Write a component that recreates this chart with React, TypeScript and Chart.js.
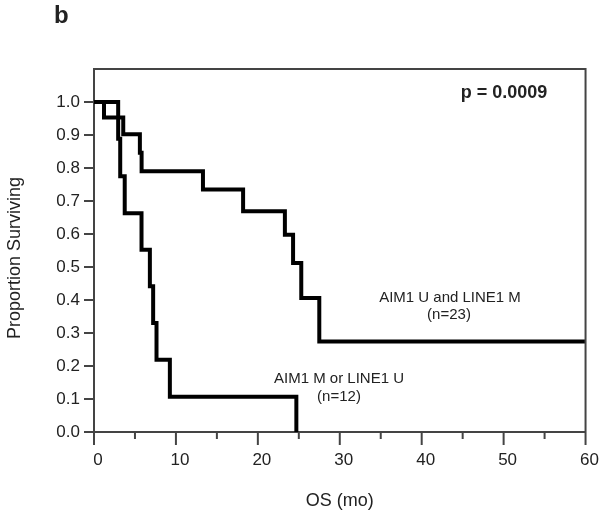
import React, { useEffect, useRef } from "react";
import { Chart, registerables } from "chart.js";

Chart.register(...registerables);

// Kaplan–Meier step data (time in months, proportion surviving after the step)
const groupATimes = [0, 1.22, 3.57, 5.6, 5.81, 13.3, 18.2, 23.3, 24.3, 25.3, 27.5, 60];
const groupAValues = [1.0, 0.953, 0.902, 0.846, 0.79, 0.735, 0.669, 0.598, 0.512, 0.406, 0.274, 0.274];
const groupBTimes = [0, 2.95, 3.2, 3.75, 5.8, 6.82, 7.22, 7.63, 9.26, 24.7];
const groupBValues = [1.0, 0.889, 0.775, 0.663, 0.552, 0.442, 0.33, 0.219, 0.107, 0.0];

const yTickValues = [0, 0.1, 0.2, 0.3, 0.4, 0.5, 0.6, 0.7, 0.8, 0.9, 1.0];
const xTickValues = [0, 5, 10, 15, 20, 25, 30, 35, 40, 45, 50, 55, 60];
const xLabelValues = [0, 10, 20, 30, 40, 50, 60];

const panelLabel = "b";
const pValueText = "p = 0.0009";
const groupALabel = ["AIM1 U and LINE1 M", "(n=23)"];
const groupBLabel = ["AIM1 M or LINE1 U", "(n=12)"];
const xTitle = "OS (mo)";
const yTitle = "Proportion Surviving";

const FONT = "'Liberation Sans', Arial, sans-serif";
const AXIS = "#444";
const TEXT = "#222";

const toPoints = (t: number[], v: number[]) => t.map((x, i) => ({ x, y: v[i] }));

const decorPlugin = {
  id: "decor",
  afterDraw(chart: any) {
    const { ctx, chartArea, scales } = chart;
    const xs = scales.x;
    const ys = scales.y;
    ctx.save();
    // frame top & right
    ctx.strokeStyle = AXIS;
    ctx.lineWidth = 2;
    ctx.beginPath();
    ctx.moveTo(chartArea.left - 1, chartArea.top);
    ctx.lineTo(chartArea.right, chartArea.top);
    ctx.lineTo(chartArea.right, chartArea.bottom);
    ctx.stroke();
    // x tick marks
    xTickValues.forEach((v) => {
      const px = xs.getPixelForValue(v);
      const len = v % 10 === 0 ? 13 : 7;
      ctx.beginPath();
      ctx.moveTo(px, chartArea.bottom);
      ctx.lineTo(px, chartArea.bottom + len);
      ctx.stroke();
    });
    // y tick marks
    yTickValues.forEach((v) => {
      const py = ys.getPixelForValue(v);
      ctx.beginPath();
      ctx.moveTo(chartArea.left, py);
      ctx.lineTo(chartArea.left - 10, py);
      ctx.stroke();
    });

    ctx.fillStyle = TEXT;
    ctx.textAlign = "left";
    ctx.textBaseline = "alphabetic";
    ctx.font = `bold 24px ${FONT}`;
    ctx.fillText(panelLabel, 54, 23);

    ctx.textAlign = "center";
    ctx.textBaseline = "middle";
    ctx.font = `bold 18px ${FONT}`;
    ctx.fillText(pValueText, 504, 93);

    ctx.font = `15px ${FONT}`;
    ctx.fillText(groupALabel[0], 450, 298);
    ctx.fillText(groupALabel[1], 449, 315);
    ctx.fillText(groupBLabel[0], 339, 379);
    ctx.fillText(groupBLabel[1], 339, 397);

    ctx.font = `18px ${FONT}`;
    ctx.fillText(xTitle, (chartArea.left + chartArea.right) / 2, 501);

    ctx.translate(15, 258);
    ctx.rotate(-Math.PI / 2);
    ctx.fillText(yTitle, 0, 0);
    ctx.restore();
  },
};

export default function App() {
  const ref = useRef<HTMLCanvasElement>(null);
  useEffect(() => {
    if (!ref.current) return;
    const chart = new Chart(ref.current, {
      type: "line",
      data: {
        datasets: [
          {
            label: groupALabel[0],
            data: toPoints(groupATimes, groupAValues),
            borderColor: "#000",
            borderWidth: 4,
            pointRadius: 0,
            stepped: "before",
            fill: false,
            borderJoinStyle: "miter",
          },
          {
            label: groupBLabel[0],
            data: toPoints(groupBTimes, groupBValues),
            borderColor: "#000",
            borderWidth: 4,
            pointRadius: 0,
            stepped: "before",
            fill: false,
            borderJoinStyle: "miter",
          },
        ],
      },
      options: {
        responsive: false,
        animation: false,
        layout: { padding: { left: 0, right: 13, top: 69, bottom: 0 } },
        plugins: { legend: { display: false }, tooltip: { enabled: false } },
        scales: {
          x: {
            type: "linear",
            min: 0,
            max: 60,
            afterBuildTicks: (s: any) => {
              s.ticks = xLabelValues.map((v) => ({ value: v }));
            },
            afterFit: (s: any) => {
              s.height = 83;
            },
            ticks: {
              font: { family: FONT, size: 17 },
              color: TEXT,
              padding: 5,
              labelOffset: 4,
              maxRotation: 0,
              autoSkip: false,
            },
            grid: {
              display: true,
              drawOnChartArea: false,
              tickLength: 13,
              tickColor: "rgba(0,0,0,0)",
            },
            border: { display: true, color: AXIS, width: 2 },
          },
          y: {
            type: "linear",
            min: 0,
            max: 1.1,
            afterBuildTicks: (s: any) => {
              s.ticks = yTickValues.map((v) => ({ value: v }));
            },
            afterFit: (s: any) => {
              s.width = 94;
            },
            ticks: {
              font: { family: FONT, size: 17 },
              color: TEXT,
              padding: 4,
              callback: (v: any) => Number(v).toFixed(1),
            },
            grid: {
              display: true,
              drawOnChartArea: false,
              tickLength: 10,
              tickColor: "rgba(0,0,0,0)",
            },
            border: { display: true, color: AXIS, width: 2 },
          },
        },
      },
      plugins: [decorPlugin],
    } as any);
    return () => chart.destroy();
  }, []);
  return (
    <div style={{ position: "fixed", left: 0, top: 0, width: 600, height: 515, background: "#fff" }}>
      <canvas ref={ref} width={600} height={515} />
    </div>
  );
}
